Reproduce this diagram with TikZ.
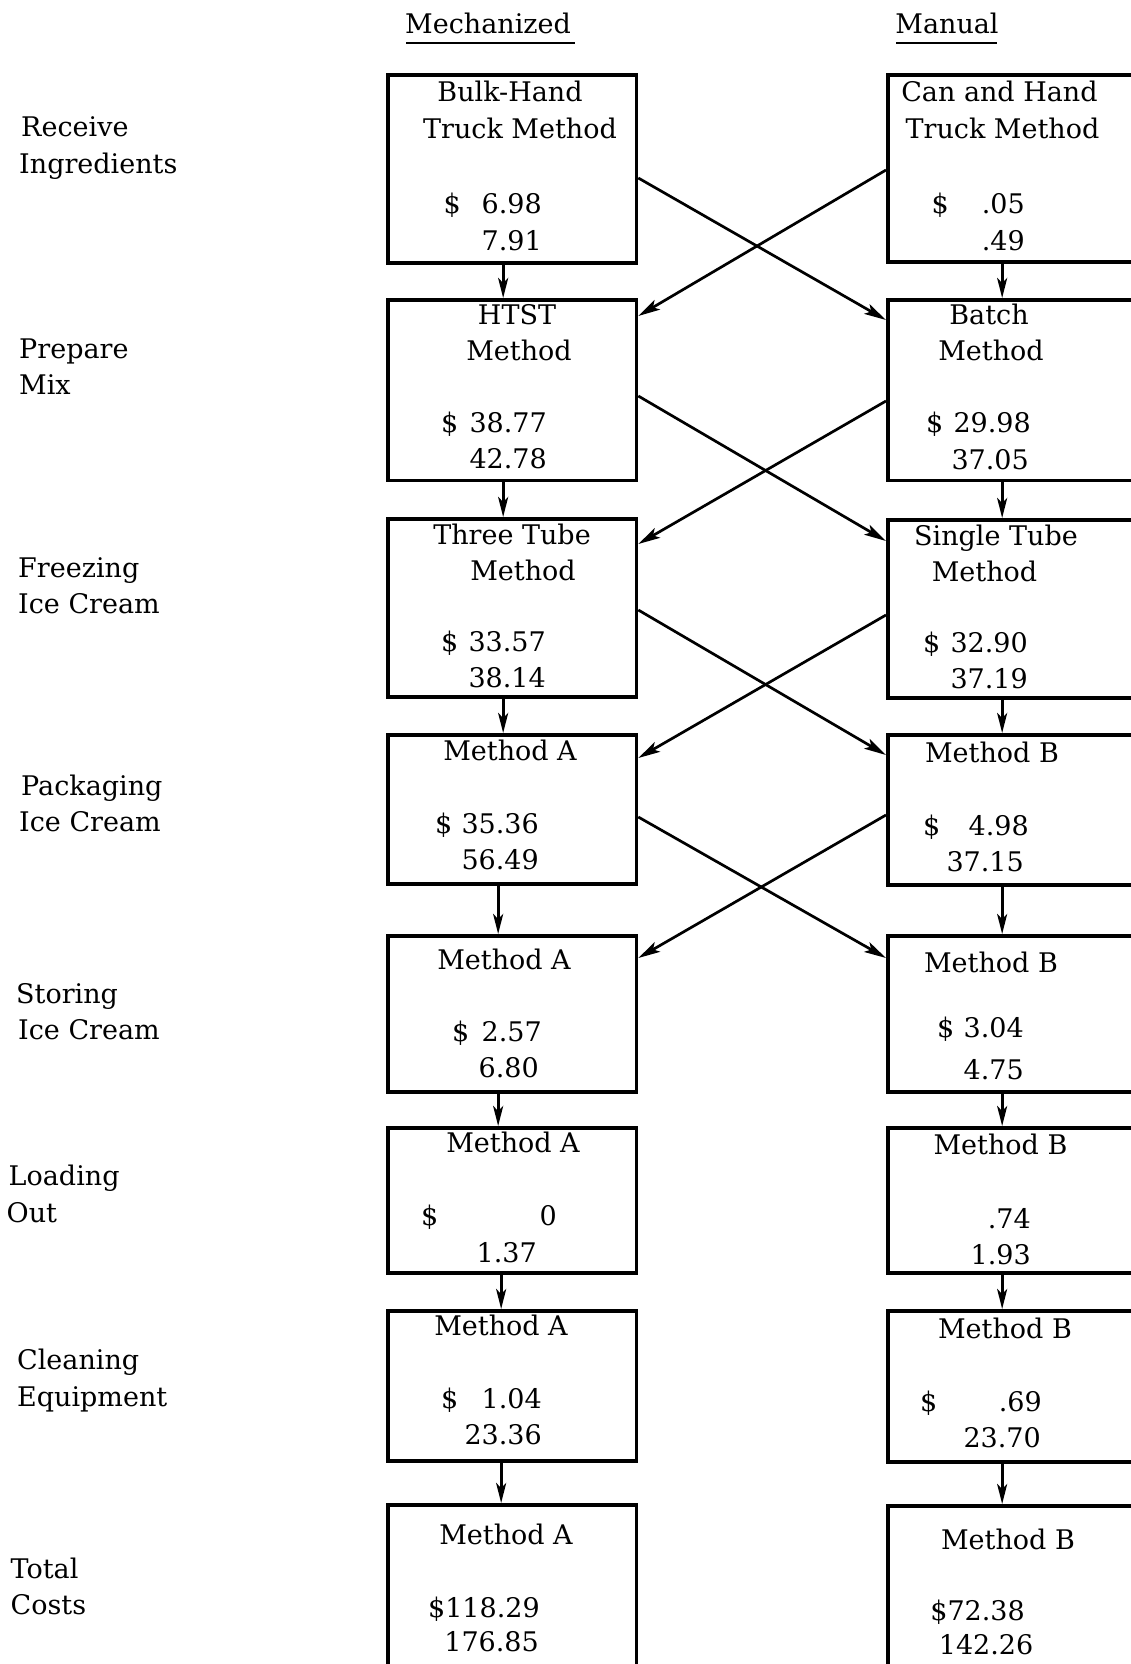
\documentclass[tikz,border=0pt]{standalone}
\usepackage{fontspec}
\setmainfont{DejaVu Serif}
\usetikzlibrary{arrows.meta}
\begin{document}
\begin{tikzpicture}[x=1pt,y=-1pt,
  box/.style={draw, line width=3.8pt, anchor=north west, minimum width=248.5pt, inner sep=0pt},
  varrow/.style={line width=2.8pt, -{Stealth[length=20pt,width=10pt,inset=5pt]}},
  xarrow/.style={line width=2.7pt, -{Stealth[length=22pt,width=11pt,inset=5pt]}},
  txt/.style={font=\fontsize{27}{32}\selectfont, inner sep=0pt, anchor=base},
  tw/.style={txt, anchor=base west},
  te/.style={txt, anchor=base east},
  lab/.style={txt, anchor=base west}]
\useasboundingbox (0,0) rectangle (1131,1664);
\fill[white] (0,0) rectangle (1131,1664);

% headers
\node[txt] (hmech) at (488,34) {Mechanized};
\node[txt] (hman) at (947,34) {Manual};
\draw[line width=2.8pt] (406,43) -- (575,43);
\draw[line width=2.8pt] (896,43) -- (997,43);

% row labels
\node[lab] (a1) at (21,137) {Receive};
\node[lab] (a2) at (19,174) {Ingredients};
\node[lab] (b1) at (19,358) {Prepare};
\node[lab] (b2) at (19,394) {Mix};
\node[lab] (c1) at (18,577) {Freezing};
\node[lab] (c2) at (18,613) {Ice Cream};
\node[lab] (d1) at (21,795) {Packaging};
\node[lab] (d2) at (19,831) {Ice Cream};
\node[lab] (e1) at (16,1003) {Storing};
\node[lab] (e2) at (18,1039) {Ice Cream};
\node[lab] (f1) at (8.5,1185) {Loading};
\node[lab] (f2) at (6.5,1222) {Out};
\node[lab] (g1) at (17,1369) {Cleaning};
\node[lab] (g2) at (17,1406) {Equipment};
\node[lab] (h1) at (10.5,1578) {Total};
\node[lab] (h2) at (10.5,1614) {Costs};

% left boxes
\node[box, minimum height=188pt] (L1) at (386,73) {};
\node[box, minimum height=180.5pt] (L2) at (386,298) {};
\node[box, minimum height=178pt] (L3) at (386,517) {};
\node[box, minimum height=149pt] (L4) at (386,733) {};
\node[box, minimum height=156pt] (L5) at (386,934) {};
\node[box, minimum height=145pt] (L6) at (386,1126) {};
\node[box, minimum height=150pt] (L7) at (386,1309) {};
\node[box, minimum height=200pt] (L8) at (386,1503) {};

% right boxes
\node[box, minimum height=187pt] (R1) at (886,73) {};
\node[box, minimum height=180.5pt] (R2) at (886,298) {};
\node[box, minimum height=178pt] (R3) at (886,518) {};
\node[box, minimum height=150pt] (R4) at (886,733) {};
\node[box, minimum height=156pt] (R5) at (886,934) {};
\node[box, minimum height=145pt] (R6) at (886,1126) {};
\node[box, minimum height=151pt] (R7) at (886,1309) {};
\node[box, minimum height=200pt] (R8) at (886,1504) {};

% left box texts
\node[txt] (l1a) at (510,102) {Bulk-Hand};
\node[txt] (l1b) at (520,139) {Truck Method};
\node[tw] (l1c) at (443.5,213) {\$};
\node[te] (l1d) at (542,213) {6.98};
\node[te] (l1e) at (542,250) {7.91};

\node[txt] (l2a) at (517,324) {HTST};
\node[txt] (l2b) at (519,360) {Method};
\node[tw] (l2c) at (441,432) {\$};
\node[te] (l2d) at (547,432) {38.77};
\node[te] (l2e) at (547,468) {42.78};

\node[txt] (l3a) at (512,544) {Three Tube};
\node[txt] (l3b) at (523,580) {Method};
\node[tw] (l3c) at (441,651) {\$};
\node[te] (l3d) at (546,651) {33.57};
\node[te] (l3e) at (546,687) {38.14};

\node[txt] (l4a) at (510,760) {Method A};
\node[tw] (l4c) at (435,833) {\$};
\node[te] (l4d) at (539,833) {35.36};
\node[te] (l4e) at (539,869) {56.49};

\node[txt] (l5a) at (504,969) {Method A};
\node[tw] (l5c) at (452,1041) {\$};
\node[te] (l5d) at (542,1041) {2.57};
\node[te] (l5e) at (539,1077) {6.80};

\node[txt] (l6a) at (513,1152) {Method A};
\node[tw] (l6c) at (421,1225) {\$};
\node[te] (l6d) at (557,1225) {0};
\node[te] (l6e) at (537,1262) {1.37};

\node[txt] (l7a) at (501,1335) {Method A};
\node[tw] (l7c) at (441,1408) {\$};
\node[te] (l7d) at (542,1408) {1.04};
\node[te] (l7e) at (542,1444) {23.36};

\node[txt] (l8a) at (506,1544) {Method A};
\node[te] (l8d) at (540,1617) {\$118.29};
\node[te] (l8e) at (539,1651) {176.85};

% right box texts
\node[txt] (r1a) at (999.5,102) {Can and Hand};
\node[txt] (r1b) at (1002.5,139) {Truck Method};
\node[tw] (r1c) at (931.5,213) {\$};
\node[te] (r1d) at (1025,213) {.05};
\node[te] (r1e) at (1025,250) {.49};

\node[txt] (r2a) at (989,324) {Batch};
\node[txt] (r2b) at (991,360) {Method};
\node[tw] (r2c) at (926,432) {\$};
\node[te] (r2d) at (1031,432) {29.98};
\node[te] (r2e) at (1029,469) {37.05};

\node[txt] (r3a) at (996,545) {Single Tube};
\node[txt] (r3b) at (984.5,581) {Method};
\node[tw] (r3c) at (923,652) {\$};
\node[te] (r3d) at (1028,652) {32.90};
\node[te] (r3e) at (1028,688) {37.19};

\node[txt] (r4a) at (992,762) {Method B};
\node[tw] (r4c) at (923,835) {\$};
\node[te] (r4d) at (1029,835) {4.98};
\node[te] (r4e) at (1024,871) {37.15};

\node[txt] (r5a) at (991,972) {Method B};
\node[tw] (r5c) at (937,1037) {\$};
\node[te] (r5d) at (1024,1037) {3.04};
\node[te] (r5e) at (1024,1079) {4.75};

\node[txt] (r6a) at (1000.5,1154) {Method B};
\node[te] (r6d) at (1031,1228) {.74};
\node[te] (r6e) at (1031,1264) {1.93};

\node[txt] (r7a) at (1005,1338) {Method B};
\node[tw] (r7c) at (920,1411) {\$};
\node[te] (r7d) at (1042,1411) {.69};
\node[te] (r7e) at (1041,1447) {23.70};

\node[txt] (r8a) at (1008,1549) {Method B};
\node[te] (r8d) at (1025,1620) {\$72.38};
\node[te] (r8e) at (1033.5,1654) {142.26};

% vertical arrows, left column
\draw[varrow] ([xshift=-9pt]L1.south) -- ([xshift=-9pt]L2.north);
\draw[varrow] ([xshift=-9pt]L2.south) -- ([xshift=-9pt]L3.north);
\draw[varrow] ([xshift=-9pt]L3.south) -- ([xshift=-9pt]L4.north);
\draw[varrow] ([xshift=-14pt]L4.south) -- ([xshift=-14pt]L5.north);
\draw[varrow] ([xshift=-14pt]L5.south) -- ([xshift=-14pt]L6.north);
\draw[varrow] ([xshift=-11pt]L6.south) -- ([xshift=-11pt]L7.north);
\draw[varrow] ([xshift=-11pt]L7.south) -- ([xshift=-11pt]L8.north);

% vertical arrows, right column
\draw[varrow] ([xshift=-10pt]R1.south) -- ([xshift=-10pt]R2.north);
\draw[varrow] ([xshift=-10pt]R2.south) -- ([xshift=-10pt]R3.north);
\draw[varrow] ([xshift=-10pt]R3.south) -- ([xshift=-10pt]R4.north);
\draw[varrow] ([xshift=-10pt]R4.south) -- ([xshift=-10pt]R5.north);
\draw[varrow] ([xshift=-10pt]R5.south) -- ([xshift=-10pt]R6.north);
\draw[varrow] ([xshift=-10pt]R6.south) -- ([xshift=-10pt]R7.north);
\draw[varrow] ([xshift=-10pt]R7.south) -- ([xshift=-10pt]R8.north);

% crossing arrows
\draw[xarrow] ([yshift=-105pt]L1.north east) -- ([yshift=-22pt]R2.north west);
\draw[xarrow] ([yshift=-97pt]R1.north west) -- ([yshift=-18pt]L2.north east);
\draw[xarrow] ([yshift=-98pt]L2.north east) -- ([yshift=-23pt]R3.north west);
\draw[xarrow] ([yshift=-103pt]R2.north west) -- ([yshift=-27pt]L3.north east);
\draw[xarrow] ([yshift=-93pt]L3.north east) -- ([yshift=-22pt]R4.north west);
\draw[xarrow] ([yshift=-97pt]R3.north west) -- ([yshift=-25pt]L4.north east);
\draw[xarrow] ([yshift=-84pt]L4.north east) -- ([yshift=-24pt]R5.north west);
\draw[xarrow] ([yshift=-82pt]R4.north west) -- ([yshift=-24pt]L5.north east);
\end{tikzpicture}
\end{document}
